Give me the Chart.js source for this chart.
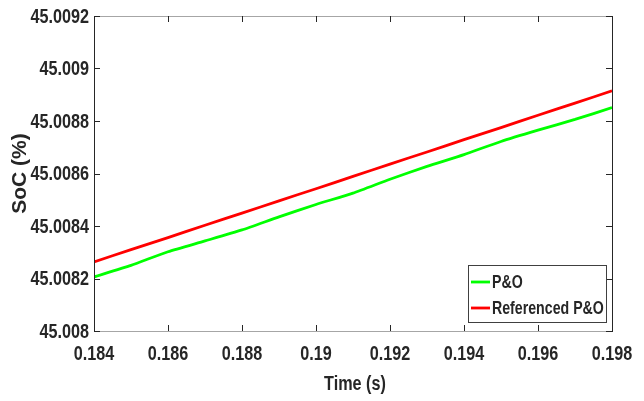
<!DOCTYPE html>
<html>
<head>
<meta charset="utf-8">
<script src="https://cdn.jsdelivr.net/npm/chart.js@4.4.1/dist/chart.umd.min.js"></script>
<style>
  html, body { margin: 0; padding: 0; background: #fff; }
  #wrap { width: 644px; height: 401px; }
</style>
</head>
<body>
<div id="wrap"><canvas id="soc" width="644" height="401"></canvas></div>
<script>
// state of charge around t = 0.19 s
const time = [0.184, 0.185, 0.186, 0.187, 0.188, 0.189, 0.190, 0.191,
              0.192, 0.193, 0.194, 0.195, 0.196, 0.197, 0.198];
const socPO = [45.008206, 45.008250, 45.008302, 45.008343, 45.008385,
               45.008435, 45.008482, 45.008525, 45.008578, 45.008627,
               45.008672, 45.008722, 45.008765, 45.008806, 45.008851];
const socRefPO = [45.008263, 45.008310, 45.008356, 45.008403, 45.008449,
                  45.008496, 45.008542, 45.008589, 45.008636, 45.008682,
                  45.008729, 45.008775, 45.008822, 45.008868, 45.008915];
const xTicks = [0.184, 0.186, 0.188, 0.19, 0.192, 0.194, 0.196, 0.198];
const yTicks = [45.008, 45.0082, 45.0084, 45.0086, 45.0088, 45.009, 45.0092];

const TEXT = "#262626";
const SANS = "'Liberation Sans', Arial, sans-serif";
const SQUEEZE = 0.81; // no narrow face installed, so compress bold sans

const toXY = (ys) => ys.map((y, i) => ({x: time[i], y: y}));

function squeezedText(ctx, text, x, y, align){
  ctx.save();
  ctx.translate(x, y);
  ctx.scale(SQUEEZE, 1);
  ctx.textAlign = align;
  ctx.fillText(text, 0, 0);
  ctx.restore();
}

// matlab style box: frame, inward ticks on all four sides, narrow labels, legend inside
const axesBox = {
  id: "axesBox",
  afterDatasetsDraw(chart){
    const {ctx, chartArea: a, scales: {x, y}} = chart;
    const tl = 6;
    ctx.save();
    ctx.lineWidth = 1;

    ctx.strokeStyle = "#a6a6a6";
    ctx.beginPath();
    ctx.moveTo(a.left, a.top + 0.5); ctx.lineTo(a.right, a.top + 0.5);
    ctx.moveTo(a.left, a.bottom + 0.5); ctx.lineTo(a.right, a.bottom + 0.5);
    ctx.stroke();

    ctx.strokeStyle = TEXT;
    ctx.beginPath();
    ctx.moveTo(a.left + 0.5, a.top); ctx.lineTo(a.left + 0.5, a.bottom + 1);
    ctx.moveTo(a.right + 0.5, a.top); ctx.lineTo(a.right + 0.5, a.bottom + 1);
    x.ticks.forEach((t) => {
      const px = Math.round(x.getPixelForValue(t.value)) + 0.5;
      ctx.moveTo(px, a.bottom); ctx.lineTo(px, a.bottom - tl);
      ctx.moveTo(px, a.top); ctx.lineTo(px, a.top + tl);
    });
    y.ticks.forEach((t) => {
      const py = Math.round(y.getPixelForValue(t.value)) + 0.5;
      ctx.moveTo(a.left, py); ctx.lineTo(a.left + tl, py);
      ctx.moveTo(a.right, py); ctx.lineTo(a.right - tl, py);
    });
    ctx.stroke();

    // tick labels and x title
    ctx.fillStyle = TEXT;
    ctx.textBaseline = "middle";
    ctx.font = "bold 20px " + SANS;
    x.ticks.forEach((t) => {
      squeezedText(ctx, t.label, x.getPixelForValue(t.value), a.bottom + 23, "center");
    });
    y.ticks.forEach((t) => {
      squeezedText(ctx, t.label, a.left - 5, y.getPixelForValue(t.value) + 1, "right");
    });
    squeezedText(ctx, "Time (s)", (a.left + a.right) / 2 + 2, a.bottom + 53, "center");

    // legend, lower right corner
    const w = 138, h = 57;
    const bx = a.right - 6 - w, by = a.bottom - 9 - h;
    ctx.fillStyle = "#fff";
    ctx.fillRect(bx, by, w, h);
    ctx.strokeStyle = "#404040";
    ctx.strokeRect(bx + 0.5, by + 0.5, w, h);
    ctx.font = "bold 17.5px " + SANS;
    chart.data.datasets.forEach((ds, i) => {
      const ry = by + 17 + i * 26;
      ctx.strokeStyle = ds.borderColor;
      ctx.lineWidth = 2.8;
      ctx.beginPath();
      ctx.moveTo(bx + 3, ry); ctx.lineTo(bx + 22, ry);
      ctx.stroke();
      ctx.fillStyle = TEXT;
      squeezedText(ctx, ds.label, bx + 24, ry + 1, "left");
    });
    ctx.restore();
  }
};

new Chart(document.getElementById("soc"), {
  type: "line",
  data: {
    datasets: [
      {label: "P&O", data: toXY(socPO), borderColor: "#00ff00"},
      {label: "Referenced P&O", data: toXY(socRefPO), borderColor: "#ff0000"}
    ]
  },
  options: {
    responsive: false,
    animation: false,
    devicePixelRatio: 1,
    layout: {padding: {top: 16, right: 32, bottom: 0, left: 0}},
    elements: {
      point: {radius: 0},
      line: {borderWidth: 2.8, tension: 0.2, fill: false}
    },
    plugins: {legend: {display: false}, tooltip: {enabled: false}},
    scales: {
      x: {
        type: "linear",
        min: 0.184,
        max: 0.198,
        afterBuildTicks: (s) => { s.ticks = xTicks.map((v) => ({value: v})); },
        afterFit: (s) => { s.height = 70; },
        grid: {display: false},
        border: {display: false},
        ticks: {
          display: false,
          callback: (v) => String(+v.toFixed(3))
        }
      },
      y: {
        type: "linear",
        min: 45.008,
        max: 45.0092,
        afterBuildTicks: (s) => { s.ticks = yTicks.map((v) => ({value: v})); },
        afterFit: (s) => { s.width = 94; },
        grid: {display: false},
        border: {display: false},
        ticks: {
          display: false,
          callback: (v) => String(+v.toFixed(4))
        },
        title: {
          display: true,
          text: "SoC (%)",
          color: TEXT,
          font: {family: SANS, size: 21, weight: "bold"},
          padding: {top: 8, bottom: 0}
        }
      }
    }
  },
  plugins: [axesBox]
});
</script>
</body>
</html>
